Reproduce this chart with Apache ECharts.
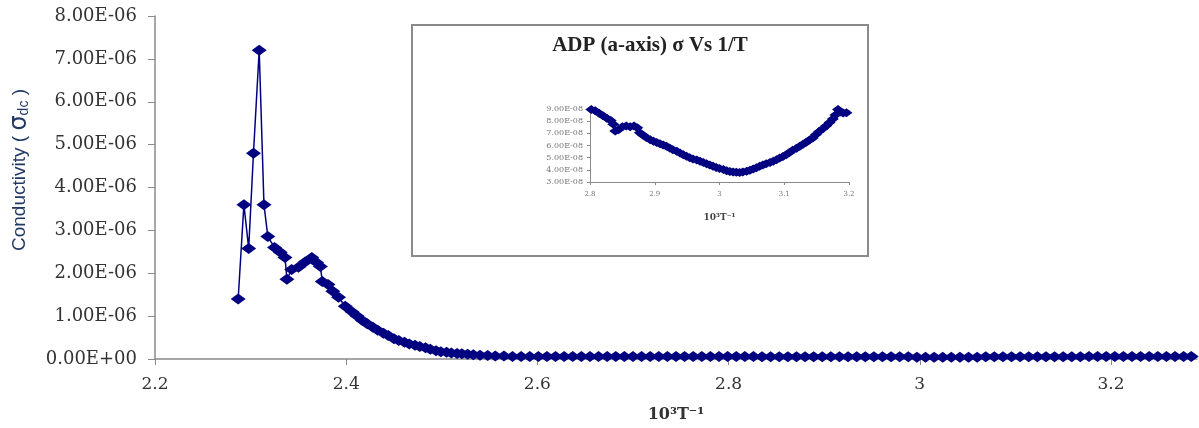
<!DOCTYPE html>
<html>
<head>
<meta charset="utf-8">
<script src="https://cdn.jsdelivr.net/npm/echarts@6/dist/echarts.min.js"></script>
<style>html,body{margin:0;padding:0;background:#fff}#c{width:1199px;height:428px}</style>
</head>
<body>
<div id="c"></div>
<script>
// ---- main chart data (x = 10^3/T, y in units of 1E-06) ----
const mainX = [2.287,2.293,2.298,2.303,2.309,2.314,2.318,2.325,2.331,2.336,2.338,2.343,2.350,2.357,2.364,2.369,2.373,2.375,2.381,2.386,2.392,2.399,
  2.406,2.411,2.417,2.422,2.428,2.433,2.439,2.444,2.450,2.455,2.461,2.466,2.472,2.477,2.483,2.488,2.494,2.499,2.505,2.510,2.516,2.521,2.527,2.533,2.540,2.548,2.556,2.565,2.574,
  2.583,2.592,2.601,2.610,2.619,2.628,2.637,2.646,2.655,2.664,
  2.673,2.682,2.691,2.700,2.709,2.718,2.727,2.736,2.745,2.754,
  2.763,2.772,2.781,2.790,2.799,2.808,2.817,2.826,2.835,2.844,
  2.853,2.862,2.871,2.880,2.889,2.898,2.907,2.916,2.925,2.934,
  2.943,2.952,2.961,2.970,2.979,2.988,2.997,3.006,3.015,3.024,
  3.033,3.042,3.051,3.060,3.069,3.078,3.087,3.096,3.105,3.114,
  3.123,3.132,3.141,3.150,3.159,3.168,3.177,3.186,3.195,3.204,
  3.213,3.222,3.231,3.240,3.249,3.258,3.267,3.276,3.284];
const mainY = [1.40,3.60,2.58,4.80,7.20,3.60,2.86,2.60,2.49,2.37,1.86,2.09,2.14,2.26,2.37,2.25,2.16,1.81,1.74,1.58,1.44,1.23,
  1.10,1.01,0.90,0.82,0.74,0.67,0.60,0.55,0.47,0.43,0.39,0.35,0.32,0.29,0.26,0.23,0.19,0.17,0.16,0.14,0.13,0.12,0.11,0.10,0.09,0.08,0.07,0.07,0.06,
  0.06,0.06,0.06,0.06,0.06,0.06,0.06,0.06,0.06,0.06,
  0.06,0.06,0.06,0.06,0.06,0.06,0.06,0.06,0.06,0.06,
  0.06,0.06,0.06,0.06,0.06,0.06,0.06,0.06,0.05,0.05,
  0.05,0.05,0.05,0.05,0.05,0.05,0.05,0.05,0.05,0.05,
  0.05,0.05,0.05,0.05,0.05,0.05,0.04,0.04,0.04,0.04,
  0.04,0.04,0.04,0.04,0.05,0.05,0.05,0.05,0.05,0.05,
  0.05,0.05,0.05,0.05,0.05,0.05,0.06,0.06,0.06,0.06,
  0.06,0.06,0.06,0.06,0.06,0.06,0.06,0.06,0.06];
const xTickLabels = ['2.2','2.4','2.6','2.8','3','3.2'];
const yTickLabels = ['0.00E+00','1.00E-06','2.00E-06','3.00E-06','4.00E-06','5.00E-06','6.00E-06','7.00E-06','8.00E-06'];

// ---- inset data (x = 10^3/T, y in units of 1E-08) ----
const insetX = [2.802,2.808,2.814,2.820,2.826,2.832,2.836,2.839,2.844,2.850,2.856,2.862,2.868,2.873,2.877,2.882,2.887,2.893,2.898,2.903,
  2.908,2.913,2.918,2.923,2.928,2.934,2.939,2.944,2.949,2.954,2.959,2.965,2.970,2.975,2.980,2.985,2.990,2.995,3.000,3.006,
  3.011,3.016,3.021,3.026,3.031,3.036,3.042,3.047,3.052,3.057,3.062,3.067,3.072,3.078,3.083,3.088,3.093,3.098,3.103,3.108,
  3.113,3.119,3.124,3.129,3.134,3.139,3.144,3.149,3.154,3.160,3.165,3.170,3.175,3.179,3.183,3.187,3.191,3.196,3.201];
const insetY = [8.95,8.85,8.65,8.45,8.25,8.05,7.75,7.20,7.30,7.55,7.60,7.55,7.60,7.45,7.05,6.85,6.65,6.48,6.35,6.25,
  6.15,6.05,5.93,5.80,5.66,5.52,5.38,5.25,5.11,5.00,4.89,4.80,4.70,4.60,4.51,4.40,4.29,4.20,4.10,4.02,
  3.93,3.87,3.82,3.80,3.79,3.82,3.88,3.97,4.07,4.18,4.29,4.40,4.51,4.60,4.70,4.83,4.97,5.10,5.25,5.42,
  5.60,5.77,5.93,6.10,6.26,6.45,6.62,6.90,7.16,7.40,7.63,7.90,8.18,8.50,8.95,8.75,8.67,8.70,8.85];
const insetXTickLabels = ['2.8','2.9','3','3.1','3.2'];
const insetYTickLabels = ['3.00E-08','4.00E-08','5.00E-08','6.00E-08','7.00E-08','8.00E-08','9.00E-08'];

const NAVY = '#000080';
const AXIS = '#8a8a8a';
const SERIF = '"DejaVu Serif", "Liberation Serif", serif';

const chart = echarts.init(document.getElementById('c'), null, {renderer: 'canvas'});
chart.setOption({
  animation: false,
  backgroundColor: '#ffffff',
  grid: [
    {left: 155, right: 2, top: 16, bottom: 68},
    {left: 590, top: 109, width: 259, height: 73}
  ],
  xAxis: [
    {
      gridIndex: 0, type: 'value', min: 2.2, max: 3.29, interval: 0.2,
      axisLine: {lineStyle: {color: AXIS, width: 1.5}},
      axisTick: {length: 6, lineStyle: {color: AXIS}},
      splitLine: {show: false},
      axisLabel: {
        showMaxLabel: false, margin: 17, color: '#333', fontFamily: SERIF, fontSize: 17,
        formatter: v => xTickLabels[Math.round((v - 2.2) / 0.2)] ?? ''
      },
      name: '10³T⁻¹', nameLocation: 'middle', nameGap: 48,
      nameTextStyle: {fontFamily: SERIF, fontWeight: 'bold', fontSize: 16, color: '#333'}
    },
    {
      gridIndex: 1, type: 'value', min: 2.8, max: 3.2, interval: 0.1,
      axisLine: {lineStyle: {color: AXIS, width: 1}},
      axisTick: {length: 3, lineStyle: {color: AXIS}},
      splitLine: {show: false},
      axisLabel: {
        margin: 9, color: '#777', fontFamily: SERIF, fontSize: 7,
        formatter: v => insetXTickLabels[Math.round((v - 2.8) / 0.1)] ?? ''
      },
      name: '10³T⁻¹', nameLocation: 'middle', nameGap: 31,
      nameTextStyle: {fontFamily: SERIF, fontWeight: 'bold', fontSize: 9, color: '#444'}
    }
  ],
  yAxis: [
    {
      gridIndex: 0, type: 'value', min: 0, max: 8, interval: 1,
      axisLine: {show: true, lineStyle: {color: AXIS, width: 1.5}},
      axisTick: {show: true, length: 7, lineStyle: {color: AXIS}},
      splitLine: {show: false},
      axisLabel: {
        margin: 18, color: '#333', fontFamily: SERIF, fontSize: 18,
        formatter: v => yTickLabels[Math.round(v)] ?? ''
      }
    },
    {
      gridIndex: 1, type: 'value', min: 3, max: 9, interval: 1,
      axisLine: {show: true, lineStyle: {color: AXIS, width: 1}},
      axisTick: {show: true, length: 3, lineStyle: {color: AXIS}},
      splitLine: {show: false},
      axisLabel: {
        margin: 7, color: '#777', fontFamily: SERIF, fontSize: 8,
        formatter: v => insetYTickLabels[Math.round(v - 3)] ?? ''
      }
    }
  ],
  graphic: [
    {
      type: 'rect', z: 0,
      shape: {x: 412, y: 25, width: 456, height: 231},
      style: {fill: null, stroke: '#8a8a8a', lineWidth: 2}
    },
    {
      type: 'text', x: 650, y: 46,
      style: {text: 'ADP (a-axis) σ Vs 1/T', font: 'bold 21px "Liberation Serif", serif', fill: '#222', align: 'center', verticalAlign: 'middle'}
    },
    {
      type: 'text', x: 20, y: 170, rotation: Math.PI / 2,
      style: {
        text: '{a|Conductivity}{a| ( }{s|σ}{d|dc}{a| )}',
        align: 'center', verticalAlign: 'middle',
        rich: {
          a: {fontFamily: '"Liberation Sans", sans-serif', fontSize: 19, fill: '#203864', color: '#203864'},
          s: {fontFamily: '"DejaVu Sans", sans-serif', fontSize: 24, fill: '#203864', color: '#203864'},
          d: {fontFamily: '"Liberation Sans", sans-serif', fontSize: 14, fill: '#203864', color: '#203864', padding: [8, 0, 0, 0]}
        }
      }
    }
  ],
  series: [
    {
      type: 'line', xAxisIndex: 0, yAxisIndex: 0,
      data: mainX.map((x, i) => [x, mainY[i]]),
      symbol: 'diamond', symbolSize: [15, 11],
      lineStyle: {color: NAVY, width: 1.5},
      itemStyle: {color: NAVY}
    },
    {
      type: 'line', xAxisIndex: 1, yAxisIndex: 1,
      data: insetX.map((x, i) => [x, insetY[i]]),
      symbol: 'diamond', symbolSize: [12, 9],
      lineStyle: {color: NAVY, width: 1},
      itemStyle: {color: NAVY}
    }
  ]
});
</script>
</body>
</html>
